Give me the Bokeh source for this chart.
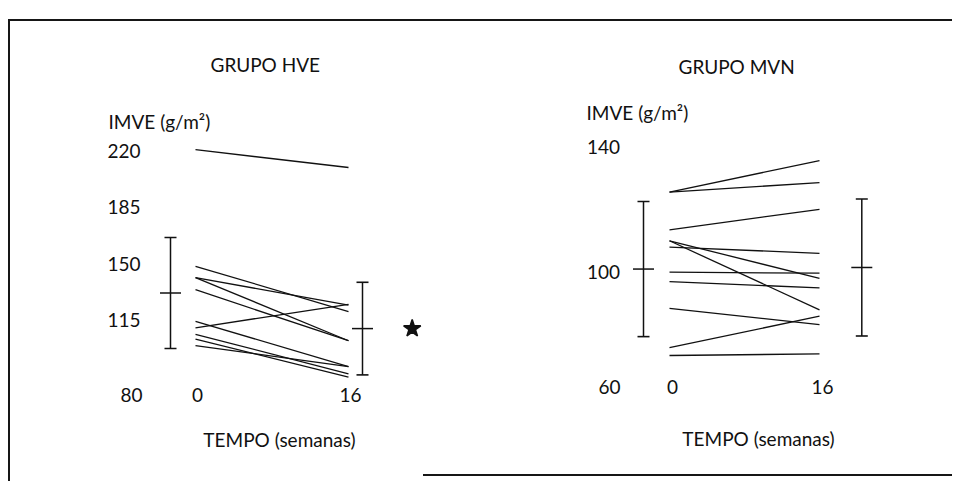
from bokeh.plotting import figure
from bokeh.models import Range1d, Whisker, TeeHead, ColumnDataSource, Spacer
from bokeh.layouts import row, column
from bokeh.embed import file_html
from bokeh.resources import INLINE
from bokeh.core.properties import value

# ---------------- data ----------------
weeks = [0, 16]
week_labels = ["0", "16"]
hve_title = "GRUPO HVE"
mvn_title = "GRUPO MVN"
y_title = "IMVE (g/m²)"
x_title = "TEMPO (semanas)"
hve_yticks = [115, 150, 185, 220]
hve_origin = "80"
mvn_yticks = [100, 140]
mvn_origin = "60"
# individual patients, week 0 -> week 16
hve_w0 = [220.5, 148.5, 141.5, 141.5, 134.0, 114.5, 110.5, 106.5, 103.5, 99.5]
hve_w16 = [209.5, 120.5, 124.5, 102.5, 102.5, 86.5, 125.0, 82.0, 80.0, 86.5]
mvn_w0 = [125.5, 125.5, 113.5, 110.0, 110.0, 108.0, 100.0, 97.0, 88.5, 76.0, 73.5]
mvn_w16 = [135.5, 128.5, 120.0, 98.0, 88.0, 106.0, 99.7, 95.0, 83.3, 86.0, 74.0]
# group mean +/- SD at week 0 and week 16
hve_mean = [132.0, 110.0]
hve_sd = [34.3, 28.6]
mvn_mean = [101.0, 101.5]
mvn_sd = [21.5, 21.8]

# ---------------- style / layout (pixels) ----------------
FONT = "Lato"
FS = "19px"
INK = "#111111"
BORDER = "2px solid #161616"


def build(cfg, w0, w16, mean, sd, yticks, origin, title, mark_second=False):
    cx, cy, W, H = cfg["canvas"]
    x0px, pxw, vref, vref_px, pxv = cfg["map"]

    def xd(px):
        return (px - x0px) / pxw

    def yd(py):
        return vref + (vref_px - py) / pxv

    p = figure(width=W, height=H, output_backend="svg", toolbar_location=None,
               title_location=None, x_axis_location=None, y_axis_location=None,
               x_range=Range1d(xd(cx), xd(cx + W)), y_range=Range1d(yd(cy + H), yd(cy)),
               min_border=0, min_border_left=0, min_border_right=0,
               min_border_top=0, min_border_bottom=0)
    p.grid.visible = False
    p.outline_line_color = None
    p.background_fill_color = "white"
    p.border_fill_color = "white"

    txt = dict(text_font=value(FONT), text_font_size=value(FS), text_color=INK,
               text_baseline="middle")

    # tick labels (through the data scales)
    p.text(x=[xd(cfg["ylab_right"])] * len(yticks), y=yticks, text=[str(t) for t in yticks],
           text_align="right", **txt)
    p.text(x=weeks, y=[yd(cfg["xlab_y"])] * len(weeks), text=week_labels,
           text_align="center", x_offset=cfg["xlab_dx"], **txt)

    # patient lines
    src = ColumnDataSource(dict(x0=[weeks[0]] * len(w0), x1=[weeks[1]] * len(w0), y0=w0, y1=w16))
    p.segment(x0="x0", y0="y0", x1="x1", y1="y1", source=src, line_color=INK, line_width=1.3)

    # mean +/- SD bars
    ebx = [xd(px) for px in cfg["ebpx"]]
    esrc = ColumnDataSource(dict(x=ebx, m=mean,
                                 lo=[m - s for m, s in zip(mean, sd)],
                                 hi=[m + s for m, s in zip(mean, sd)]))
    wh = Whisker(base="x", lower="lo", upper="hi", source=esrc, dimension="height",
                 line_color=INK, line_width=1.5,
                 upper_head=TeeHead(size=12, line_color=INK, line_width=1.6),
                 lower_head=TeeHead(size=12, line_color=INK, line_width=1.6))
    p.add_layout(wh)
    p.scatter(x="x", y="m", source=esrc, marker="dash", size=21, line_color=INK, line_width=1.5)

    if mark_second:
        p.scatter(x=[xd(cfg["sigpx"])], y=[mean[1]], marker="star", size=18,
                  fill_color=INK, line_color=INK, line_width=1.5)

    # free texts
    for t, (px, py), al in ((title, cfg["title"], "left"), (y_title, cfg["ytitle"], "left"),
                            (origin, cfg["origin"], "right"), (x_title, cfg["xtitle"], "center")):
        p.text(x=[xd(px)], y=[yd(py)], text=[t], text_align=al, **txt)
    return p


cfg1 = dict(canvas=(10, 21, 415, 462), map=(195.0, 9.5625, 167.5, 235.0, 1.619),
            ylab_right=140, xlab_y=394.5, xlab_dx=2,
            ebpx=[170, 362], sigpx=411.7,
            title=(210, 63.5), ytitle=(108, 120.5), origin=(142, 394.5), xtitle=(279, 439))
cfg2 = dict(canvas=(425, 21, 529, 457), map=(671.0, 9.375, 100.0, 271.7, 3.1425),
            ylab_right=621.5, xlab_y=386, xlab_dx=3,
            ebpx=[645, 863.3], sigpx=None,
            title=(680, 66), ytitle=(588, 111.5), origin=(622, 386), xtitle=(760, 437.5))

p1 = build(cfg1, hve_w0, hve_w16, hve_mean, hve_sd, hve_yticks, hve_origin, hve_title, mark_second=True)
p2 = build(cfg2, mvn_w0, mvn_w16, mvn_mean, mvn_sd, mvn_yticks, mvn_origin, mvn_title)

p1.styles = {"border-top": BORDER, "border-left": BORDER}
p2.styles = {"border-top": BORDER, "border-bottom": BORDER}

layout = column(Spacer(height=19, width=10), row(Spacer(width=8, height=10), p1, p2))
open("out.html", "w").write(file_html(layout, INLINE))
